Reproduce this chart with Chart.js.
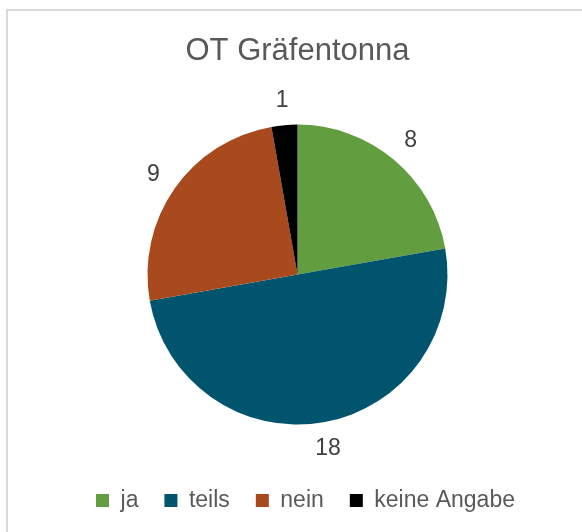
<!DOCTYPE html>
<html>
<head>
<meta charset="utf-8">
<script src="https://cdn.jsdelivr.net/npm/chart.js@4.4.1/dist/chart.umd.min.js"></script>
<style>
  html, body { margin: 0; padding: 0; background: #fff; overflow: hidden; }
  #wrap { position: relative; width: 582px; height: 532px; }
  /* light grey frame round the chart, runs off the right and bottom edge */
  #frame { position: absolute; left: 6px; top: 9px; width: 600px; height: 600px;
           border: 2px solid #d9d9d9; box-sizing: border-box; }
  canvas { position: absolute; left: 0; top: 0; }
</style>
</head>
<body>
<div id="wrap">
  <div id="frame"></div>
  <canvas id="pieChart" width="582" height="532"></canvas>
</div>
<script>
// Data
const categories = ['ja', 'teils', 'nein', 'keine Angabe'];
const values = [8, 18, 9, 1];
const sliceColors = ['#629d3f', '#00546e', '#a94a1e', '#000000'];
const chartTitle = 'OT Gräfentonna';

const fontFamily = '"Liberation Sans", Arial, sans-serif';

// Values drawn just outside each slice
const outsideLabels = {
    id: 'outsideLabels',
    afterDatasetsDraw(chart) {
        const ctx = chart.ctx;
        const meta = chart.getDatasetMeta(0);
        ctx.save();
        ctx.font = '23px ' + fontFamily;
        ctx.fillStyle = '#404040';
        ctx.textAlign = 'center';
        ctx.textBaseline = 'middle';
        meta.data.forEach((arc, i) => {
            const { x, y, startAngle, endAngle, outerRadius } = arc.getProps(['x', 'y', 'startAngle', 'endAngle', 'outerRadius'], true);
            const mid = (startAngle + endAngle) / 2;
            const dist = outerRadius + 26;
            ctx.fillText(String(chart.data.datasets[0].data[i]), x + Math.cos(mid) * dist, y + Math.sin(mid) * dist + 1);
        });
        ctx.restore();
    }
};

// legend sits a little right of the pie centre in the original
const nudgeLegend = {
    id: 'nudgeLegend',
    afterLayout(chart) {
        chart.legend.left += 8;
        chart.legend.right += 8;
    }
};

const ctx = document.getElementById('pieChart').getContext('2d');
const pieChart = new Chart(ctx, {
    type: 'pie',
    data: {
        labels: categories,
        datasets: [{
            data: values,
            backgroundColor: sliceColors,
            borderWidth: 0,
            radius: 150
        }]
    },
    options: {
        responsive: false,
        animation: false,
        layout: {
            padding: { top: 20, bottom: 10, left: 13, right: 0 }
        },
        plugins: {
            title: {
                display: true,
                text: chartTitle,
                color: '#595959',
                font: { family: fontFamily, size: 31, weight: 'normal' },
                padding: { top: 13, bottom: 16 }
            },
            legend: {
                position: 'bottom',
                labels: {
                    color: '#595959',
                    font: { family: fontFamily, size: 23 },
                    boxWidth: 13,
                    boxHeight: 13,
                    padding: 26
                }
            },
            tooltip: { enabled: false }
        }
    },
    plugins: [outsideLabels, nudgeLegend]
});
</script>
</body>
</html>
